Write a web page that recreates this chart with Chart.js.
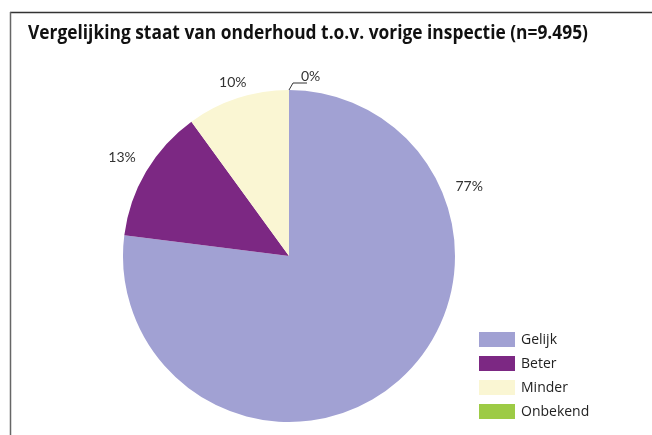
<!DOCTYPE html>
<html>
<head>
<meta charset="utf-8">
<script src="https://cdn.jsdelivr.net/npm/chart.js@4.4.0/dist/chart.umd.min.js"></script>
<style>
  html, body { margin: 0; padding: 0; background: #fff; }
  #wrap { width: 652px; height: 435px; position: relative; }
</style>
</head>
<body>
<div id="wrap"><canvas id="pie"></canvas></div>
<script>
// data
var categories = ["Gelijk", "Beter", "Minder", "Onbekend"];
var values = [77, 13, 10, 0];
var valueLabels = ["77%", "13%", "10%", "0%"];
var colors = ["#A1A1D3", "#7C2883", "#FAF6D3", "#9DCB45"];
var titleText = "Vergelijking staat van onderhoud t.o.v. vorige inspectie (n=9.495)";

// label placement (degrees clockwise from top, null = middle of slice) and distance past the rim
var labelAngles = [69, null, null, null];
var labelOffsets = [27, 28, 16, 0];

// frame + title
var framePlugin = {
  id: 'frame',
  beforeDraw: function(chart) {
    var ctx = chart.ctx;
    ctx.save();
    ctx.strokeStyle = "#333";
    ctx.lineWidth = 1.5;
    ctx.beginPath();
    ctx.moveTo(10, 12.5);
    ctx.lineTo(652, 12.5);
    ctx.stroke();
    ctx.strokeStyle = "#666";
    ctx.beginPath();
    ctx.moveTo(10.5, 12);
    ctx.lineTo(10.5, 435);
    ctx.stroke();

    ctx.fillStyle = "#111";
    ctx.font = "bold 19px 'Open Sans'";
    ctx.textBaseline = "alphabetic";
    var w = ctx.measureText(titleText).width;
    var sx = Math.min(1, 560 / w);
    ctx.translate(28, 39);
    ctx.scale(sx, 1);
    ctx.fillText(titleText, 0, 0);
    ctx.restore();
  }
};

// value labels outside the slices
var labelPlugin = {
  id: 'sliceLabels',
  afterDatasetsDraw: function(chart) {
    var ctx = chart.ctx;
    var arcs = chart.getDatasetMeta(0).data;
    ctx.save();
    ctx.fillStyle = "#333";
    ctx.font = "14px Lato";
    ctx.textAlign = "center";
    ctx.textBaseline = "middle";
    arcs.forEach(function(arc, i) {
      var r = arc.outerRadius;
      if (values[i] === 0) {
        // tiny slice: leader line
        var a0 = arc.endAngle;
        var px = arc.x + Math.cos(a0) * r, py = arc.y + Math.sin(a0) * r;
        ctx.strokeStyle = "#333";
        ctx.lineWidth = 1;
        ctx.beginPath();
        ctx.moveTo(px, py);
        ctx.lineTo(px + 4, py - 7);
        ctx.lineTo(px + 18, py - 7);
        ctx.stroke();
        ctx.textAlign = "left";
        ctx.fillText(valueLabels[i], px + 12, py - 14);
        ctx.textAlign = "center";
        return;
      }
      var ang;
      if (labelAngles[i] !== null) {
        ang = labelAngles[i] * Math.PI / 180 - Math.PI / 2;
      } else {
        ang = (arc.startAngle + arc.endAngle) / 2;
      }
      var d = r + labelOffsets[i];
      ctx.fillText(valueLabels[i], arc.x + Math.cos(ang) * d, arc.y + Math.sin(ang) * d);
    });
    ctx.restore();
  }
};

// legend bottom right
var legendPlugin = {
  id: 'sideLegend',
  afterDraw: function(chart) {
    var ctx = chart.ctx;
    ctx.save();
    ctx.font = "14px 'Open Sans'";
    ctx.textBaseline = "middle";
    categories.forEach(function(c, i) {
      var y = 332 + i * 24;
      ctx.fillStyle = colors[i];
      ctx.fillRect(479, y, 36, 15);
      ctx.fillStyle = "#222";
      ctx.fillText(c, 521, y + 8);
    });
    ctx.restore();
  }
};

new Chart(document.getElementById("pie"), {
  type: 'pie',
  data: {
    labels: categories,
    datasets: [{
      data: values,
      backgroundColor: colors,
      borderWidth: 0
    }]
  },
  options: {
    responsive: true,
    maintainAspectRatio: false,
    animation: false,
    layout: { padding: { top: 90, bottom: 13, left: 123, right: 197 } },
    plugins: {
      legend: { display: false },
      title: { display: false },
      tooltip: { enabled: false }
    }
  },
  plugins: [framePlugin, labelPlugin, legendPlugin]
});
</script>
</body>
</html>
